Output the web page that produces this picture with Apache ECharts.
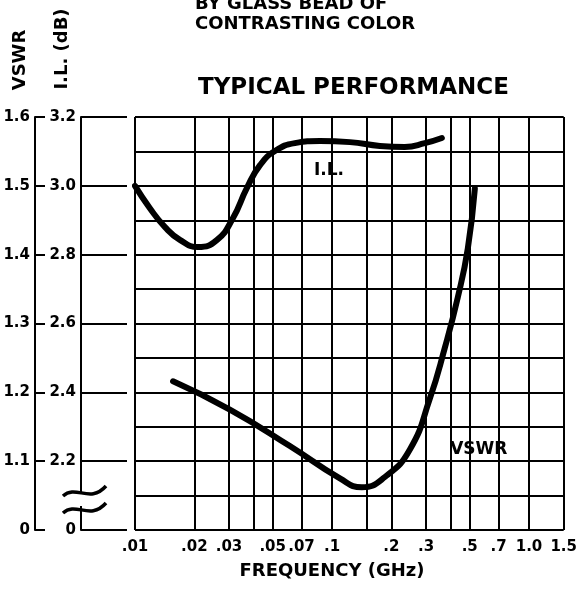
<!DOCTYPE html>
<html><head><meta charset="utf-8">
<script src="https://cdn.jsdelivr.net/npm/echarts@6/dist/echarts.min.js"></script>
<style>html,body{margin:0;padding:0;background:#fff}#c{width:580px;height:592px}</style>
</head><body><div id="c"></div>
<script>
// ---- data ----
const freqGrid = [0.01, 0.015, 0.02, 0.03, 0.04, 0.05, 0.07, 0.1, 0.15, 0.2, 0.3, 0.4, 0.5, 0.7, 1.0, 1.5];
const freqLabels = [0.01, 0.02, 0.03, 0.05, 0.07, 0.1, 0.2, 0.3, 0.5, 0.7, 1.0, 1.5];
const freqLabelText = ['.01', '.02', '.03', '.05', '.07', '.1', '.2', '.3', '.5', '.7', '1.0', '1.5'];

const ilFreq = [0.01, 0.0119, 0.0142, 0.0169, 0.0209, 0.0261, 0.0314, 0.037, 0.0431, 0.0513, 0.0648, 0.0868, 0.1233, 0.175, 0.234, 0.296, 0.361];
const ilDb   = [3.000, 2.935, 2.880, 2.843, 2.822, 2.843, 2.906, 2.994, 3.060, 3.101, 3.124, 3.130, 3.127, 3.116, 3.113, 3.124, 3.139];

const vswrFreq = [0.0156, 0.0303, 0.0611, 0.1097, 0.1418, 0.1855, 0.2485, 0.3138, 0.374, 0.435, 0.489, 0.531];
const vswrVal  = [1.216, 1.175, 1.122, 1.075, 1.062, 1.077, 1.117, 1.191, 1.265, 1.338, 1.409, 1.496];

const vswrMin = 1.0, vswrMax = 1.6, vswrStep = 0.1;
const ilMin = 2.0, ilMax = 3.2, ilStep = 0.2, ilGridStep = 0.1;
const brokenLabel = '0';

// ---- chart ----
const FONT = 'DejaVu Sans';
const chart = echarts.init(document.getElementById('c'), null, {renderer: 'canvas'});
const lblStyle = {color: '#000', fontFamily: FONT, fontWeight: 'bold', fontSize: 15};

function fmtY(min) {
  return function (v) { return Math.abs(v - min) < 1e-6 ? brokenLabel : v.toFixed(1); };
}
function fmtX(v) {
  for (let i = 0; i < freqLabels.length; i++) if (Math.abs(freqLabels[i] - v) / freqLabels[i] < 1e-6) return freqLabelText[i];
  return '';
}

const option = {
  backgroundColor: '#fff',
  animation: false,
  grid: {left: 135, right: 15, top: 117, bottom: 62, containLabel: false},
  xAxis: {
    type: 'log', logBase: 10, min: 0.01, max: 1.5,
    axisLine: {show: false},
    axisTick: {show: false},
    splitLine: {show: false},
    minorSplitLine: {show: false},
    axisLabel: Object.assign({customValues: freqLabels, formatter: fmtX, margin: 10, showMinLabel: true, showMaxLabel: true}, lblStyle)
  },
  yAxis: [
    { // VSWR
      type: 'value', min: vswrMin, max: vswrMax, interval: vswrStep, position: 'left', offset: 100,
      axisLine: {show: true, lineStyle: {color: '#000', width: 2}},
      axisTick: {show: true, inside: true, length: 10, lineStyle: {color: '#000', width: 2}},
      axisLabel: Object.assign({formatter: fmtY(vswrMin), margin: 5}, lblStyle),
      splitLine: {show: false}
    },
    { // I.L.
      type: 'value', min: ilMin, max: ilMax, interval: ilStep, position: 'left', offset: 54,
      axisLine: {show: true, lineStyle: {color: '#000', width: 2}},
      axisTick: {show: true, inside: true, length: 46, lineStyle: {color: '#000', width: 2}},
      axisLabel: Object.assign({formatter: fmtY(ilMin), margin: 5}, lblStyle),
      splitLine: {show: false}
    },
    { // grid lines
      type: 'value', min: ilMin, max: ilMax, interval: ilGridStep, position: 'right',
      axisLine: {show: false}, axisTick: {show: false}, axisLabel: {show: false},
      splitLine: {show: true, showMinLine: true, showMaxLine: true, lineStyle: {color: '#000', width: 2}}
    }
  ],
  series: [
    {
      name: 'grid', type: 'line', data: [], yAxisIndex: 2, silent: true,
      markLine: {
        silent: true, symbol: 'none', animation: false,
        label: {show: false},
        lineStyle: {color: '#000', width: 2, type: 'solid'},
        data: freqGrid.map(f => ({xAxis: f}))
      }
    },
    {
      name: 'I.L.', type: 'line', yAxisIndex: 1, smooth: 0.5, symbol: 'none',
      lineStyle: {color: '#000', width: 6, cap: 'round'},
      data: ilFreq.map((f, i) => [f, ilDb[i]]),
      markPoint: {
        symbol: 'circle', symbolSize: 0,
        label: {show: true, formatter: 'I.L.', color: '#000', fontFamily: FONT, fontWeight: 'bold', fontSize: 17, position: 'inside'},
        data: [{coord: [0.0965, 3.044]}]
      },
      z: 5
    },
    {
      name: 'VSWR', type: 'line', yAxisIndex: 0, smooth: 0.5, symbol: 'none',
      lineStyle: {color: '#000', width: 6, cap: 'round'},
      data: vswrFreq.map((f, i) => [f, vswrVal[i]]),
      markPoint: {
        symbol: 'circle', symbolSize: 0,
        label: {show: true, formatter: 'VSWR', color: '#000', fontFamily: FONT, fontWeight: 'bold', fontSize: 17, position: 'inside'},
        data: [{coord: [0.556, 1.117]}]
      },
      z: 5
    }
  ],
  graphic: [
    {type: 'text', left: 195, top: -5, style: {text: 'BY GLASS BEAD OF', fill: '#000', font: 'bold 18px "DejaVu Sans"'}},
    {type: 'text', left: 195, top: 15, style: {text: 'CONTRASTING COLOR', fill: '#000', font: 'bold 18px "DejaVu Sans"'}},
    {type: 'text', left: 198, top: 77, style: {text: 'TYPICAL PERFORMANCE', fill: '#000', font: 'bold 23px "DejaVu Sans"'}},
    {type: 'text', x: 20, y: 60, rotation: Math.PI / 2, style: {text: 'VSWR', fill: '#000', font: 'bold 18px "DejaVu Sans"', align: 'center', verticalAlign: 'middle'}},
    {type: 'text', x: 62, y: 49, rotation: Math.PI / 2, style: {text: 'I.L. (dB)', fill: '#000', font: 'bold 18px "DejaVu Sans"', align: 'center', verticalAlign: 'middle'}},
    {type: 'text', x: 332, y: 571, style: {text: 'FREQUENCY (GHz)', fill: '#000', font: 'bold 18px "DejaVu Sans"', align: 'center', verticalAlign: 'middle'}},
    {type: 'rect', shape: {x: 76, y: 492, width: 10, height: 14}, style: {fill: '#fff'}, z: 100},
    {type: 'bezierCurve', shape: {x1: 63, y1: 496, cpx1: 76, cpy1: 484, cpx2: 90, cpy2: 504, x2: 106, y2: 486}, style: {stroke: '#000', lineWidth: 3.5, fill: null}, z: 101},
    {type: 'bezierCurve', shape: {x1: 63, y1: 513, cpx1: 76, cpy1: 501, cpx2: 90, cpy2: 521, x2: 106, y2: 503}, style: {stroke: '#000', lineWidth: 3.5, fill: null}, z: 101}
  ]
};
chart.setOption(option);
</script>
</body></html>
